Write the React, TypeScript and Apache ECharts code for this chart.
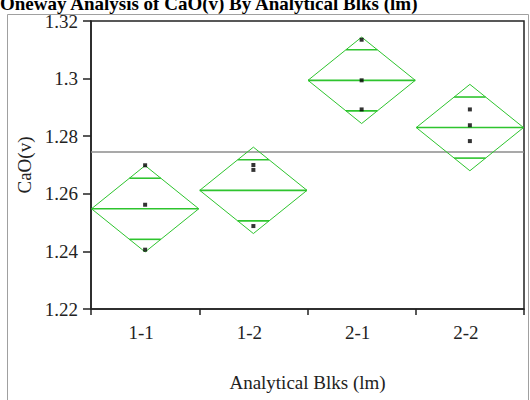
import React, { useEffect, useRef } from "react";
import * as echarts from "echarts";

// Groups of the one-way analysis
const categories = ["1-1", "1-2", "2-1", "2-2"];

// Individual CaO(v) observations per group
const obs11 = [1.2699, 1.2562, 1.2406];
const obs12 = [1.27, 1.2683, 1.2488];
const obs21 = [1.3135, 1.2994, 1.2893];
const obs22 = [1.2893, 1.2838, 1.2783];

// Group means and 95% confidence half-widths (means diamonds)
const groupMeans = [1.2548, 1.2612, 1.2994, 1.283];
const ciHalfWidths = [0.015, 0.015, 0.015, 0.015];

// Grand mean reference line
const grandMean = 1.2745;

// Y-axis range
const yMin = 1.22;
const yMax = 1.32;
const yStep = 0.02;

const SERIF = "'Liberation Serif', 'Times New Roman', serif";
const GREEN = "#2ec42e";
const FS = 19;

export default function App() {
  const ref = useRef<HTMLDivElement>(null);

  useEffect(() => {
    if (!ref.current) return;
    const chart = echarts.init(ref.current, null, { renderer: "svg" });

    const allObs = [obs11, obs12, obs21, obs22];
    const points: [string, number][] = [];
    allObs.forEach((arr, i) => arr.forEach((v) => points.push([categories[i], v])));

    const diamonds = categories.map((c, i) => [c, groupMeans[i], ciHalfWidths[i]]);

    chart.setOption({
      animation: false,
      backgroundColor: "#fff",
      textStyle: { fontFamily: SERIF },
      graphic: [
        {
          type: "rect",
          shape: { x: 7.5, y: 14.5, width: 521, height: 400 },
          style: { fill: "none", stroke: "#a0a0a0", lineWidth: 1 },
          silent: true,
          z: -1,
        },
        {
          type: "text",
          x: 0,
          y: -6,
          style: {
            text: "Oneway Analysis of CaO(v) By Analytical Blks (lm)",
            font: `bold 19px ${SERIF}`,
            fill: "#000",
            textVerticalAlign: "top",
          },
        },
      ],
      grid: {
        left: 91,
        right: 6,
        top: 21,
        bottom: 91,
        show: true,
        borderColor: "#222",
        borderWidth: 1.5,
        backgroundColor: "transparent",
      },
      xAxis: {
        type: "category",
        data: categories,
        boundaryGap: true,
        axisLine: { lineStyle: { color: "#222", width: 1.5 } },
        axisTick: { show: true, length: 6, lineStyle: { color: "#222", width: 1.5 } },
        axisLabel: {
          color: "#222",
          fontSize: FS,
          fontFamily: SERIF,
          margin: 14,
          padding: [0, 8, 0, 0],
        },
        splitLine: { show: false },
        name: "Analytical Blks (lm)",
        nameLocation: "middle",
        nameGap: 64,
        nameTextStyle: { color: "#222", fontSize: FS, fontFamily: SERIF },
      },
      yAxis: {
        type: "value",
        min: yMin,
        max: yMax,
        interval: yStep,
        axisLine: { show: true, lineStyle: { color: "#222", width: 1.5 } },
        axisTick: { show: true, length: 8, lineStyle: { color: "#222", width: 1.5 } },
        axisLabel: { color: "#222", fontSize: FS, fontFamily: SERIF, margin: 13 },
        splitLine: { show: false },
        name: "CaO(v)",
        nameLocation: "middle",
        nameGap: 53,
        nameRotate: 90,
        nameTextStyle: { color: "#222", fontSize: FS, fontFamily: SERIF },
      },
      series: [
        {
          // grand mean across the full plot width
          type: "custom",
          data: [[categories[0], grandMean]],
          encode: { x: 0, y: 1 },
          renderItem: (params: any, api: any) => {
            const p = api.coord([api.value(0), api.value(1)]);
            const cs = params.coordSys;
            return {
              type: "line",
              shape: { x1: cs.x, y1: p[1], x2: cs.x + cs.width, y2: p[1] },
              style: { stroke: "#8c8c8c", lineWidth: 1.5 },
            };
          },
          silent: true,
          z: 1,
        },
        {
          type: "custom",
          data: diamonds,
          encode: { x: 0, y: 1 },
          renderItem: (params: any, api: any) => {
            const idx = api.value(0);
            const mean = api.value(1);
            const h = api.value(2);
            const c = api.coord([idx, mean]);
            const top = api.coord([idx, mean + h]);
            const bot = api.coord([idx, mean - h]);
            const bw = api.size([1, 0])[0];
            const hw = bw / 2 - 0.5;
            const k = Math.SQRT1_2;
            const up = api.coord([idx, mean + h * k]);
            const dn = api.coord([idx, mean - h * k]);
            const mw = hw * (1 - k);
            return {
              type: "group",
              children: [
                {
                  type: "polygon",
                  shape: {
                    points: [
                      [c[0] - hw, c[1]],
                      [top[0], top[1]],
                      [c[0] + hw, c[1]],
                      [bot[0], bot[1]],
                    ],
                  },
                  style: { stroke: GREEN, fill: "none", lineWidth: 1 },
                },
                {
                  type: "line",
                  shape: { x1: c[0] - hw, y1: c[1], x2: c[0] + hw, y2: c[1] },
                  style: { stroke: GREEN, lineWidth: 1.6 },
                },
                {
                  type: "line",
                  shape: { x1: up[0] - mw, y1: up[1], x2: up[0] + mw, y2: up[1] },
                  style: { stroke: GREEN, lineWidth: 1.6 },
                },
                {
                  type: "line",
                  shape: { x1: dn[0] - mw, y1: dn[1], x2: dn[0] + mw, y2: dn[1] },
                  style: { stroke: GREEN, lineWidth: 1.6 },
                },
              ],
            };
          },
          z: 2,
        },
        {
          type: "scatter",
          data: points,
          symbol: "rect",
          symbolSize: 4,
          itemStyle: { color: "#000" },
          z: 3,
        },
      ],
    });

    return () => chart.dispose();
  }, []);

  return (
    <div
      ref={ref}
      style={{ position: "fixed", left: 0, top: 0, width: 530, height: 400 }}
    />
  );
}
